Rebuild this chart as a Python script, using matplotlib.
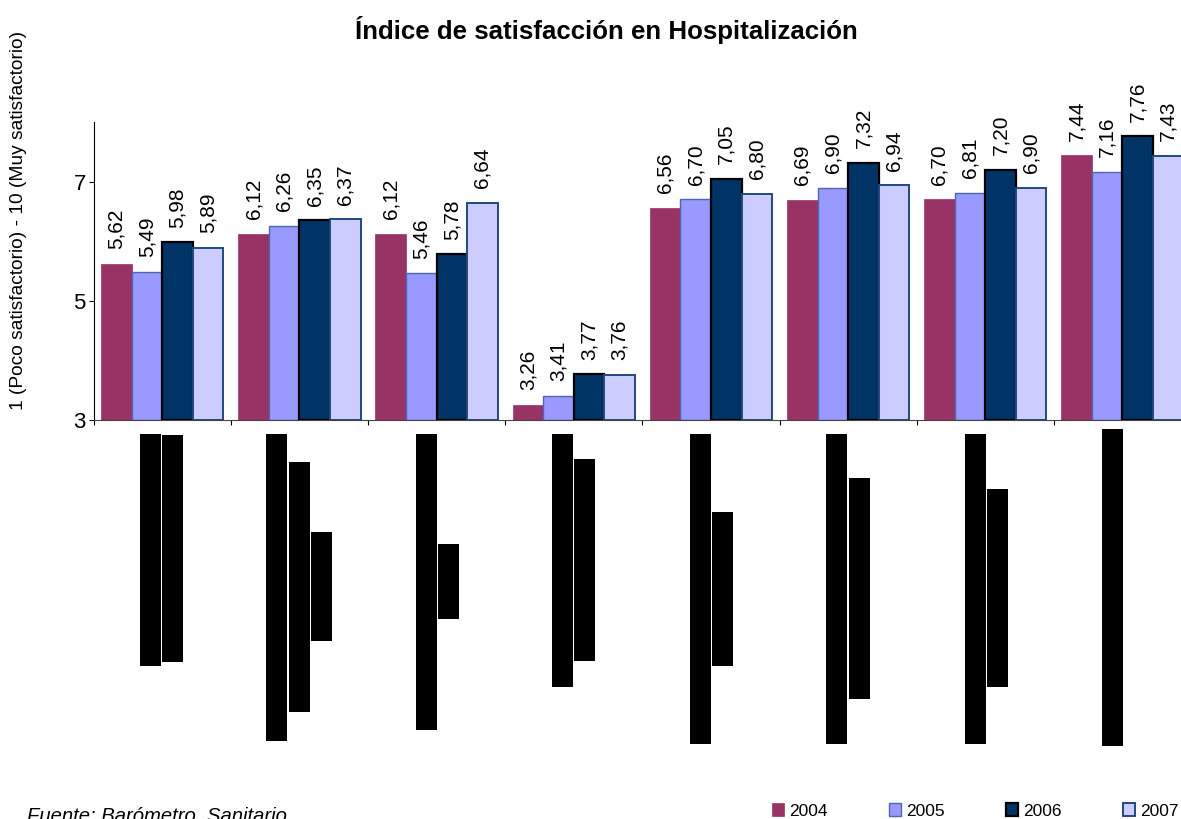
import numpy as np
import matplotlib
matplotlib.use('Agg')
import matplotlib.pyplot as plt
from matplotlib.patches import Rectangle

# Datos: índice de satisfacción por año (8 grupos)
years = ['2004', '2005', '2006', '2007']
v2004 = [5.62, 6.12, 6.12, 3.26, 6.56, 6.69, 6.70, 7.44]
v2005 = [5.49, 6.26, 5.46, 3.41, 6.70, 6.90, 6.81, 7.16]
v2006 = [5.98, 6.35, 5.78, 3.77, 7.05, 7.32, 7.20, 7.76]
v2007 = [5.89, 6.37, 6.64, 3.76, 6.80, 6.94, 6.90, 7.43]
y_ticks = [3, 5, 7]

colores = ['#993366', '#9999FF', '#003366', '#CCCCFF']
bordes = ['#993366', '#4A68B0', '#000000', '#1F4A80']
grosor = [0.5, 1.0, 1.6, 1.4]

# Cajas negras que tapan las etiquetas de categoría (px: x0, y0, x1, y1)
tapas = [
    (140, 434, 161, 666), (162, 435, 183, 662),
    (266, 434, 287, 741), (289, 462, 310, 712), (311, 532, 332, 641),
    (416, 434, 437, 730), (438, 544, 459, 619),
    (552, 434, 573, 687), (574, 459, 595, 661),
    (690, 434, 711, 744), (712, 512, 733, 666),
    (826, 434, 847, 744), (849, 478, 870, 699),
    (965, 434, 986, 744), (987, 489, 1008, 687),
    (1102, 429, 1123, 746),
]

W, H = 1181, 819
fig = plt.figure(figsize=(W / 100, H / 100), dpi=100)
ax = fig.add_axes([93.7 / W, 1 - 420 / H, (1191 - 93.7) / W, 298 / H])

series = [v2004, v2005, v2006, v2007]
x = np.arange(len(v2004))
ancho = 0.223
for i, vals in enumerate(series):
    pos = x + (i - 1.5) * ancho
    ax.bar(pos, np.array(vals) - 3, bottom=3, width=ancho, color=colores[i],
           edgecolor=bordes[i], linewidth=grosor[i], label=years[i], zorder=2)
    for px, v in zip(pos, vals):
        ax.annotate(f'{v:.2f}'.replace('.', ','), (px, v), xytext=(0, 10.5),
                    textcoords='offset points', rotation=90, ha='center',
                    va='bottom', fontsize=15, family='Liberation Sans',
                    annotation_clip=False)

ax.set_xlim(-0.5, len(v2004) - 0.5)
ax.set_ylim(3, 8)
ax.set_yticks(y_ticks)
ax.set_yticklabels([str(t) for t in y_ticks], fontsize=16, family='Liberation Sans')
ax.set_xticks(np.arange(-0.5, len(v2004), 1.0))
ax.set_xticklabels([])
ax.tick_params(axis='both', direction='out', length=3.6, width=0.8, pad=2)
ax.spines['top'].set_visible(False)
ax.spines['right'].set_visible(False)
ax.spines['left'].set_linewidth(0.8)
ax.spines['bottom'].set_linewidth(0.8)
ax.spines['bottom'].set_color('#444444')

for x0, y0, x1, y1 in tapas:
    fig.add_artist(Rectangle((x0 / W, 1 - y1 / H), (x1 - x0) / W, (y1 - y0) / H,
                             transform=fig.transFigure, facecolor='black',
                             edgecolor='none'))

fig.text(606 / W, 1 - 39 / H, 'Índice de satisfacción en Hospitalización',
         ha='center', va='baseline', fontsize=18.6, fontweight='bold',
         family='Liberation Sans')
fig.text(19 / W, 1 - 220 / H, '1 (Poco satisfactorio) - 10 (Muy satisfactorio)',
         rotation=90, ha='center', va='center', fontsize=13.8,
         family='Liberation Sans')
fig.text(27 / W, 1 - 821.5 / H, 'Fuente: Barómetro  Sanitario', ha='left',
         va='baseline', fontsize=14.6, style='italic', family='Liberation Sans')

leg = fig.legend(loc='center left', bbox_to_anchor=(772 / W, 1 - 811 / H),
                 ncol=4, frameon=False, borderpad=0, borderaxespad=0,
                 handlelength=0.69, handleheight=0.8, handletextpad=0.29,
                 columnspacing=3.54,
                 prop={'family': 'Liberation Sans', 'size': 12.5})

fig.savefig('out.png', dpi=100)
